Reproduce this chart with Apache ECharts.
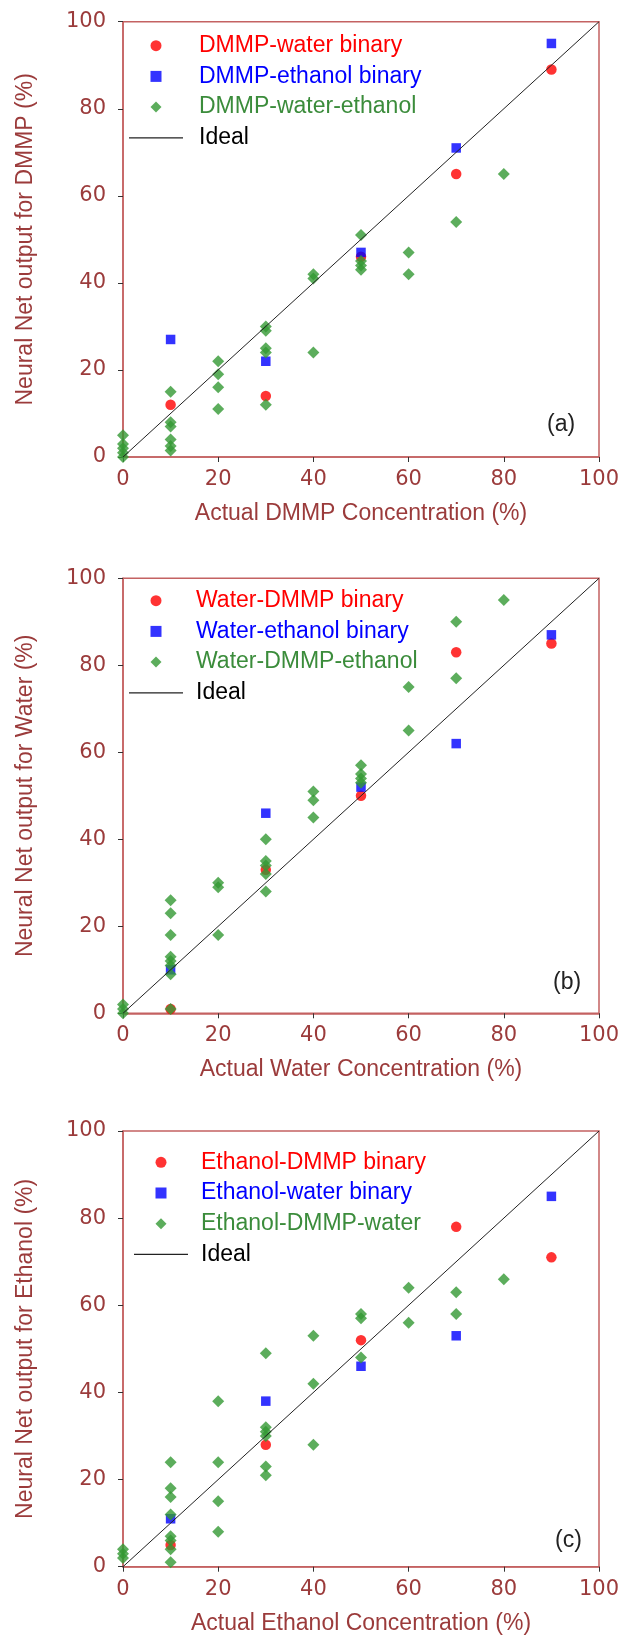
<!DOCTYPE html>
<html><head><meta charset="utf-8">
<script src="https://cdn.jsdelivr.net/npm/echarts@6/dist/echarts.min.js"></script>
<style>html,body{margin:0;padding:0;background:#fff}#c{width:630px;height:1639px}</style>
</head><body><div id="c"></div>
<script>
// ---- data ----
const tickValues = [0, 20, 40, 60, 80, 100];
const panelLabels = ['(a)', '(b)', '(c)'];
const xNames = ['Actual DMMP Concentration (%)', 'Actual Water Concentration (%)', 'Actual Ethanol Concentration (%)'];
const yNames = ['Neural Net output for DMMP (%)', 'Neural Net output for Water (%)', 'Neural Net output for Ethanol (%)'];
const redNames = ['DMMP-water binary', 'Water-DMMP binary', 'Ethanol-DMMP binary'];
const blueNames = ['DMMP-ethanol binary', 'Water-ethanol binary', 'Ethanol-water binary'];
const greenNames = ['DMMP-water-ethanol', 'Water-DMMP-ethanol', 'Ethanol-DMMP-water'];
const idealName = 'Ideal';
const idealLine = [[0, 0], [100, 100]];

const aRed = [[10,12],[30,14],[50,46],[70,65],[90,89]];
const aBlue = [[10,27],[30,22],[50,47],[70,71],[90,95]];
const aGreen = [[0,0],[0,1],[0,2],[0,3],[0,5],[10,1.5],[10,2.5],[10,4],[10,7],[10,8],[10,15],
  [20,11],[20,16],[20,19],[20,22],[30,12],[30,24],[30,25],[30,29],[30,30],[40,24],[40,41],[40,42],
  [50,43],[50,44],[50,45],[50,51],[60,42],[60,47],[70,54],[80,65]];

const bRed = [[10,1],[30,33],[50,50],[70,83],[90,85]];
const bBlue = [[10,10],[30,46],[50,52],[70,62],[90,87]];
const bGreen = [[0,0],[0,1],[0,2],[10,1],[10,9],[10,11],[10,12],[10,13],[10,18],[10,23],[10,26],
  [20,18],[20,29],[20,30],[30,28],[30,32],[30,34],[30,35],[30,40],[40,45],[40,49],[40,51],
  [50,53],[50,54],[50,55],[50,57],[60,65],[60,75],[70,77],[70,90],[80,95]];

const cRed = [[10,5],[30,28],[50,52],[70,78],[90,71]];
const cBlue = [[10,11],[30,38],[50,46],[70,53],[90,85]];
const cGreen = [[0,2],[0,3],[0,4],[10,1],[10,4],[10,6],[10,7],[10,12],[10,16],[10,18],[10,24],
  [20,8],[20,15],[20,24],[20,38],[30,21],[30,23],[30,30],[30,31],[30,32],[30,49],
  [40,28],[40,42],[40,53],[50,48],[50,57],[50,58],[60,56],[60,64],[70,58],[70,63],[80,66]];

const reds = [aRed, bRed, cRed];
const blues = [aBlue, bBlue, cBlue];
const greens = [aGreen, bGreen, cGreen];

// ---- style / layout ----
const axisRed = '#c46262';
const textRed = '#9b3b3b';
const cRedMark = '#ff0000', cBlueMark = '#0000ff', cGreenMark = '#339933', cGreenText = '#3b8c3b';
const gridTops = [21.7, 578.3, 1131];
const gridH = [435.3, 435, 435.7];
const legendTops = [32.7, 587.7, 1149.3];
const symCenters = [156, 156, 161];
const lineLefts = [129, 129, 134];
const textStarts = [199, 196, 201];
const rowStep = 30.7;
const labelPos = [[561, 425], [567, 983], [569, 1541]];
const legendFont = {fontSize: 23, fontFamily: 'Liberation Sans', lineHeight: 26};

const grid = [], xAxis = [], yAxis = [], series = [], legend = [], title = [];
for (let i = 0; i < 3; i++) {
  grid.push({left: 123, width: 476, top: gridTops[i], height: gridH[i], show: true,
    borderColor: axisRed, borderWidth: 1.5, backgroundColor: 'transparent'});
  const common = {
    gridIndex: i, type: 'value', min: tickValues[0], max: tickValues[tickValues.length - 1],
    interval: tickValues[1] - tickValues[0],
    splitLine: {show: false},
    axisLine: {show: true, onZero: false, lineStyle: {color: axisRed, width: 1.5}},
    axisTick: {show: true, length: 5, lineStyle: {color: '#333', width: 1}},
    nameLocation: 'middle',
    nameTextStyle: {color: textRed, fontSize: 23, fontFamily: 'Liberation Sans'}
  };
  xAxis.push(Object.assign({}, common, {
    name: xNames[i], nameGap: 45,
    axisLabel: {color: textRed, fontSize: 21, fontFamily: 'DejaVu Sans', margin: 12}
  }));
  yAxis.push(Object.assign({}, common, {
    name: yNames[i], nameGap: 86,
    axisLabel: {color: textRed, fontSize: 21, fontFamily: 'DejaVu Sans', margin: 17}
  }));
  series.push({name: redNames[i], type: 'scatter', xAxisIndex: i, yAxisIndex: i, data: reds[i],
    symbol: 'circle', symbolSize: 10.5, itemStyle: {color: cRedMark}, z: 2});
  series.push({name: blueNames[i], type: 'scatter', xAxisIndex: i, yAxisIndex: i, data: blues[i],
    symbol: 'rect', symbolSize: 9.5, itemStyle: {color: cBlueMark}, z: 3});
  series.push({name: greenNames[i], type: 'scatter', xAxisIndex: i, yAxisIndex: i, data: greens[i],
    symbol: 'diamond', symbolSize: 12, itemStyle: {color: cGreenMark}, z: 4});
  series.push({name: idealName + (i ? ' ' .repeat(i) : ''), type: 'line', xAxisIndex: i, yAxisIndex: i, data: idealLine,
    symbol: 'none', lineStyle: {color: '#222', width: 1}, z: 5, silent: true});
  // symbol legend
  const symSize = 11;
  legend.push({
    orient: 'vertical', left: symCenters[i] - symSize / 2, top: legendTops[i], padding: 0,
    itemWidth: symSize, itemHeight: symSize, itemGap: rowStep - 26,
    textStyle: Object.assign({}, legendFont, {padding: [0, 0, 0, textStarts[i] - (symCenters[i] + symSize / 2) - 5]}),
    data: [
      {name: redNames[i], icon: 'circle', itemStyle: {color: cRedMark}, textStyle: {color: cRedMark}},
      {name: blueNames[i], icon: 'rect', itemStyle: {color: cBlueMark}, textStyle: {color: cBlueMark}},
      {name: greenNames[i], icon: 'diamond', itemStyle: {color: cGreenMark}, textStyle: {color: cGreenText}}
    ]
  });
  // ideal line legend
  legend.push({
    orient: 'vertical', left: lineLefts[i], top: legendTops[i] + 3 * rowStep, padding: 0,
    itemWidth: 54, itemHeight: 1.3,
    textStyle: Object.assign({}, legendFont, {padding: [0, 0, 0, textStarts[i] - (lineLefts[i] + 54) - 5]}),
    data: [{name: idealName + (i ? ' '.repeat(i) : ''), icon: 'rect', itemStyle: {color: '#222'}, textStyle: {color: '#000'}}],
    formatter: () => idealName
  });
  title.push({text: panelLabels[i], left: labelPos[i][0] - 14, top: labelPos[i][1] - 13, padding: 0,
    textStyle: {fontSize: 23, fontWeight: 'normal', color: '#222', fontFamily: 'Liberation Sans', lineHeight: 26}});
}

const chart = echarts.init(document.getElementById('c'), null, {renderer: 'canvas'});
chart.setOption({animation: false, backgroundColor: '#fff', title, grid, xAxis, yAxis, legend, series});
</script>
</body></html>
